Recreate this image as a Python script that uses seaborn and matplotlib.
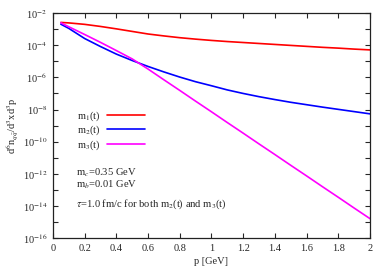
import numpy as np
import pandas as pd
import matplotlib
matplotlib.use('Agg')
import matplotlib.pyplot as plt
import seaborn as sns
from matplotlib.ticker import FixedLocator, NullFormatter
from matplotlib.lines import Line2D

# momentum grid [GeV]
p = [0.05, 0.1, 0.2, 0.3, 0.4, 0.5, 0.6, 0.7, 0.8, 0.9, 1.0,
     1.1, 1.2, 1.3, 1.4, 1.5, 1.6, 1.7, 1.8, 1.9, 2.0]

# log10 of d^6n/d^3x d^3p
m1_log = [-2.58, -2.61, -2.70, -2.83, -2.98, -3.14, -3.30, -3.42, -3.53, -3.62, -3.70,
          -3.77, -3.83, -3.89, -3.95, -4.01, -4.07, -4.13, -4.18, -4.24, -4.29]
m2_log = [-2.69, -2.95, -3.58, -4.08, -4.55, -4.95, -5.32, -5.66, -5.98, -6.27, -6.52,
          -6.78, -7.00, -7.20, -7.38, -7.55, -7.70, -7.85, -7.99, -8.13, -8.27]
m3_log = [-2.60, -2.85, -3.33, -3.82, -4.33, -4.85, -5.48, -6.15, -6.81, -7.48, -8.14,
          -8.81, -9.47, -10.14, -10.80, -11.47, -12.13, -12.80, -13.46, -14.13, -14.79]

labels = [r'm$_1$(t)', r'm$_2$(t)', r'm$_3$(t)']
colors = ['#ff0000', '#0000ff', '#ff00ff']

rows = []
for lab, vals in zip(labels, [m1_log, m2_log, m3_log]):
    for x, v in zip(p, vals):
        rows.append({'p': x, 'y': 10.0 ** v, 'curve': lab})
df = pd.DataFrame(rows)

sns.set_style('ticks')
plt.rcParams['font.family'] = ['Liberation Serif', 'DejaVu Serif']
plt.rcParams['mathtext.fontset'] = 'stix'
plt.rcParams['font.size'] = 7.5

fig = plt.figure(figsize=(3.89, 2.73), dpi=100)
ax = fig.add_axes([0.136, 0.128, 0.815, 0.824])

sns.lineplot(data=df, x='p', y='y', hue='curve', palette=colors,
             linewidth=1.2, ax=ax, legend=False)

ax.set_yscale('log')
ax.set_xlim(0, 2)
ax.set_ylim(1e-16, 1e-2)

ax.xaxis.set_major_locator(FixedLocator(np.arange(0, 2.01, 0.2)))
ax.set_xticklabels(['0', '0.2', '0.4', '0.6', '0.8', '1', '1.2', '1.4', '1.6', '1.8', '2'])
major_y = [10.0 ** e for e in range(-16, -1, 2)]
minor_y = [10.0 ** e for e in range(-15, -2, 2)]
ax.yaxis.set_major_locator(FixedLocator(major_y))
ax.yaxis.set_minor_locator(FixedLocator(minor_y))
ax.yaxis.set_minor_formatter(NullFormatter())
ax.set_yticklabels([r'10$^{%d}$' % e for e in range(-16, -1, 2)])

ax.tick_params(which='both', direction='in', top=True, right=True,
               length=3.5, width=0.8, labelsize=7.5, pad=4)
for s in ax.spines.values():
    s.set_linewidth(0.9)
    s.set_color('#222222')

ax.set_xlabel('p [GeV]', fontsize=7.5, labelpad=3)
ax.set_ylabel(r'd$^6$n$_{q\bar{q}}$/d$^3$xd$^3$p', fontsize=7.5, labelpad=2)

handles = [Line2D([], [], color=c, lw=1.2) for c in colors]
ax.legend(handles, labels, markerfirst=False, frameon=False, loc='center left',
          bbox_to_anchor=(0.06, 0.478), borderpad=0, handlelength=3.6,
          handletextpad=0.6, labelspacing=0.12, fontsize=7.5)

ax.text(0.073, 0.289, r'm$_c$=0.35 GeV', transform=ax.transAxes, va='center', fontsize=7.6)
ax.text(0.073, 0.239, r'm$_b$=0.01 GeV', transform=ax.transAxes, va='center', fontsize=7.6)
ax.text(0.073, 0.152, r'$\tau$=1.0 fm/c for both m$_2$(t) and m$_3$(t)',
        transform=ax.transAxes, va='center', fontsize=7.6)

fig.savefig('out.png', dpi=100)
